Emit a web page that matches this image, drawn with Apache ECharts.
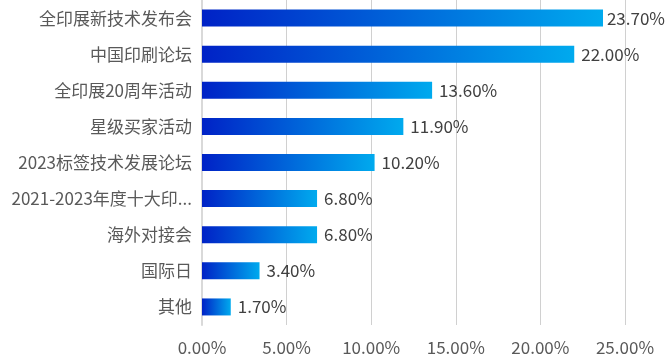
<!DOCTYPE html>
<html>
<head>
<meta charset="utf-8">
<script src="https://cdn.jsdelivr.net/npm/echarts@6/dist/echarts.min.js"></script>
<style>html,body{margin:0;padding:0;background:#fff;}#c{width:666px;height:360px;}</style>
</head>
<body>
<div id="c"></div>
<script>
const categories = ['全印展新技术发布会', '中国印刷论坛', '全印展20周年活动', '星级买家活动', '2023标签技术发展论坛', '2021-2023年度十大印...', '海外对接会', '国际日', '其他'];
const values = [23.7, 22.0, 13.6, 11.9, 10.2, 6.8, 6.8, 3.4, 1.7];
const xTicks = { min: 0, max: 25, interval: 5 };

const font = '"Noto Sans CJK SC", "Noto Sans", sans-serif';
const chart = echarts.init(document.getElementById('c'));
chart.setOption({
  animation: false,
  grid: { left: 202, right: 41, top: -3, height: 328, containLabel: false },
  xAxis: {
    type: 'value', min: xTicks.min, max: xTicks.max, interval: xTicks.interval,
    axisLine: { show: false }, axisTick: { show: false },
    splitLine: { show: true, lineStyle: { color: '#d0d0d0', width: 1 } },
    axisLabel: { color: '#595959', fontSize: 17, fontFamily: font, margin: 14,
      formatter: v => v.toFixed(2) + '%' }
  },
  yAxis: {
    type: 'category', data: categories, inverse: true,
    axisLine: { show: true, lineStyle: { color: '#d9d9d9', width: 2 } },
    axisTick: { show: false },
    axisLabel: { color: '#595959', fontSize: 17, fontFamily: font, margin: 10 }
  },
  series: [{
    type: 'bar', data: values, barWidth: 17,
    itemStyle: {
      color: new echarts.graphic.LinearGradient(0, 0, 1, 0, [
        { offset: 0, color: '#0022c6' },
        { offset: 1, color: '#00aaee' }
      ])
    },
    label: { show: true, position: 'right', distance: 7, color: '#404040', fontSize: 17, fontFamily: font,
      formatter: p => p.value.toFixed(2) + '%' },
    labelLayout: function (p) {
      const r = p.labelRect;
      if (r.x + r.width > 665) {
        return { x: 665 - r.width, y: r.y + r.height / 2, align: 'left', verticalAlign: 'middle' };
      }
      return {};
    }
  }]
});
</script>
</body>
</html>
